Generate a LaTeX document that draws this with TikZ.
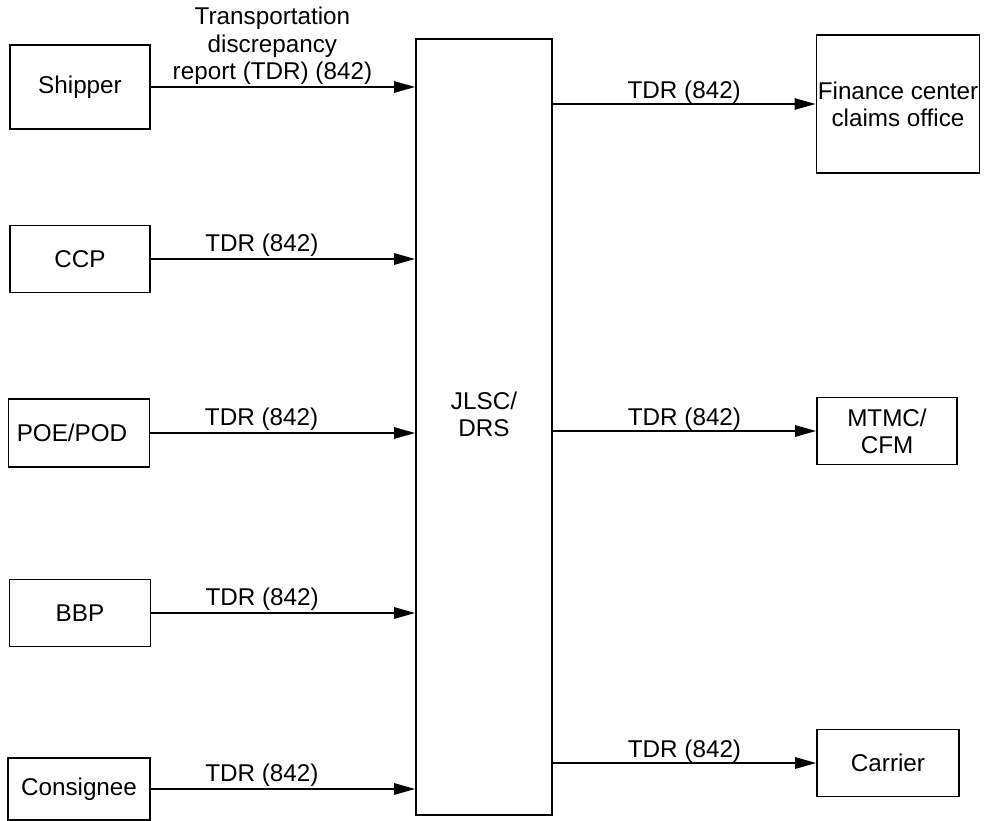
\documentclass[tikz,border=0pt]{standalone}
\usepackage{fontspec}
\setmainfont{Liberation Sans}
\usetikzlibrary{arrows.meta}
\tikzset{
 box/.style={draw, line width=1pt, inner sep=1pt, align=center, font=\fontsize{13.8}{15.5}\selectfont},
 flow/.style={line width=1pt, -{Triangle[length=12pt,width=6.5pt]}},
 tdr/.style={above, inner sep=1pt, font=\fontsize{13.8}{15.5}\selectfont}
}
\begin{document}
\begin{tikzpicture}[x=0.02cm, y=-0.02cm]
 \useasboundingbox (0,0) rectangle (984,821);
 % Các đơn vị gửi báo cáo (bên trái)
 \node[box, minimum width=2.8cm, minimum height=1.68cm] (shipper) at (80,87) {Shipper};
 \node[box, minimum width=2.8cm, minimum height=1.34cm] (ccp) at (80,259) {CCP};
 \node[box, minimum width=2.82cm, minimum height=1.36cm] (poe) at (79,433) {POE/POD\hspace{0.28cm}};
 \node[box, minimum width=2.82cm, minimum height=1.34cm] (bbp) at (80,613) {BBP};
 \node[box, minimum width=2.84cm, minimum height=1.24cm] (consignee) at (79,789) {Consignee};
 % Khối trung tâm
 \node[box, minimum width=2.72cm, minimum height=15.52cm] (jlsc) at (484,427) {};
 \node[box, draw=none] (jlsctext) at (484,414) {JLSC/\\DRS};
 % Các đơn vị nhận (bên phải)
 \node[box, minimum width=3.26cm, minimum height=2.76cm, inner sep=0pt] (finance) at (898,104) {Finance center\\claims office};
 \node[box, minimum width=2.8cm, minimum height=1.34cm] (mtmc) at (887,431) {MTMC/\\CFM};
 \node[box, minimum width=2.84cm, minimum height=1.34cm] (carrier) at (888,763) {Carrier};
 % Mũi tên vào
 \draw[flow] (shipper.east) -- node[tdr, pos=0.46, align=center] {Transportation\\discrepancy\\report (TDR) (842)} (shipper.east -| jlsc.west);
 \foreach \n in {ccp,poe,bbp,consignee}
  \draw[flow] (\n.east) -- node[tdr, pos=0.42] {TDR (842)} (\n.east -| jlsc.west);
 % Mũi tên ra
 \foreach \n in {finance,mtmc,carrier}
  \draw[flow] (jlsc.east |- \n.west) -- node[tdr, inner sep=0pt] {TDR (842)} (\n.west);
\end{tikzpicture}
\end{document}
